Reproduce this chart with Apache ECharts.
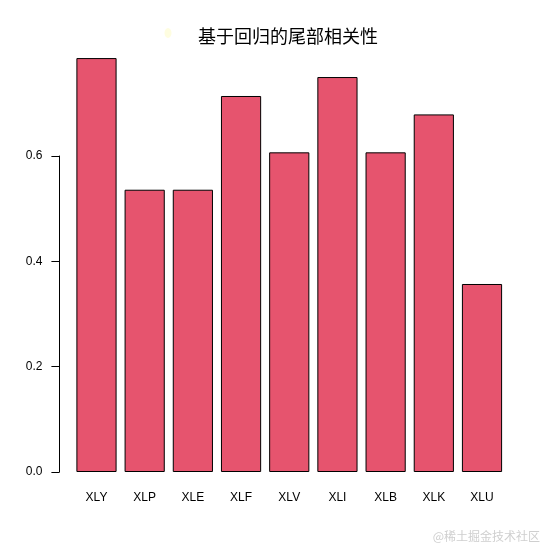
<!DOCTYPE html>
<html><head><meta charset="utf-8">
<script src="https://cdn.jsdelivr.net/npm/echarts@6/dist/echarts.min.js"></script>
<style>html,body{margin:0;padding:0;background:#fff}#c{width:550px;height:550px}</style>
</head><body><div id="c"></div>
<script>
const categories = ['XLY','XLP','XLE','XLF','XLV','XLI','XLB','XLK','XLU'];
const values = [0.786, 0.536, 0.536, 0.714, 0.607, 0.750, 0.607, 0.679, 0.357];
const yTicks = [0, 0.2, 0.4, 0.6];
const titleText = '基于回归的尾部相关性';
const watermark = '@稀土掘金技术社区';

const chart = echarts.init(document.getElementById('c'), null, {renderer: 'canvas'});
chart.setOption({
  animation: false,
  backgroundColor: '#ffffff',
  title: [{
    text: titleText, left: 283, top: 22, textAlign: 'center',
    textStyle: {fontFamily: 'Noto Sans CJK SC', fontSize: 18, fontWeight: 'normal', color: '#000'}
  }],
  graphic: [
    {type: 'ellipse', shape: {cx: 168, cy: 33, rx: 3.5, ry: 5}, style: {fill: '#fefde0'}, silent: true},
    {type: 'text', right: 10, bottom: 8, style: {text: watermark, fill: '#cfcfcf', font: '12px "Noto Sans CJK SC"'}}
  ],
  grid: [
    {left: 72.4, right: 43.9, top: 50.7, bottom: 78},
    {left: 72.4, right: 43.9, top: 156, bottom: 78}
  ],
  xAxis: [
    {type: 'category', gridIndex: 0, data: categories,
     axisLine: {show: false}, axisTick: {show: false},
     axisLabel: {margin: 20, fontFamily: 'Liberation Sans', fontSize: 12, color: '#000', interval: 0},
     splitLine: {show: false}},
    {type: 'category', gridIndex: 1, data: categories, show: false}
  ],
  yAxis: [
    {type: 'value', gridIndex: 0, min: 0, max: 0.8, show: false, splitLine: {show: false}},
    {type: 'value', gridIndex: 1, min: 0, max: 0.6, interval: 0.2, offset: 13,
     axisLine: {show: true, lineStyle: {color: '#000', width: 1}},
     axisTick: {show: true, length: 8, lineStyle: {color: '#000', width: 1}},
     axisLabel: {margin: 17, fontFamily: 'Liberation Sans', fontSize: 12, color: '#000',
       formatter: v => v.toFixed(1)},
     splitLine: {show: false}}
  ],
  series: [{
    type: 'bar', xAxisIndex: 0, yAxisIndex: 0, data: values,
    barCategoryGap: '16.6%',
    itemStyle: {color: '#E6546E', borderColor: '#000', borderWidth: 1}
  }]
});
</script></body></html>
